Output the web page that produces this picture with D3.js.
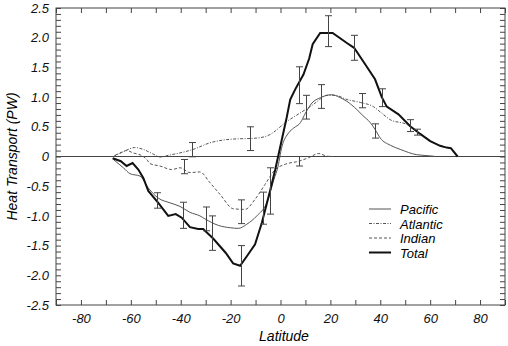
<!DOCTYPE html>
<meta charset="utf-8">
<body style="margin:0;background:#fff">
<script src="https://cdn.jsdelivr.net/npm/d3@7"></script>
<script>

    var width = 508,
        height = 346;

    // Latitude / transport (PW)
    var pacificLat = [-67, -63, -60.3, -56.3, -53, -49, -44.3, -40.3, -36.3, -32.3, -30.3, -24.9, -20, -16.9, -13.5, -9.5, -5.5, -2.2, -1.3, 0.6, 3.3, 5.3, 8, 10, 12.6, 16, 20.5, 23.5, 26.6, 30.6, 33, 36, 38, 40, 44, 48, 54.6, 61.3, 62];
    var pacificVal = [-0.05, -0.19, -0.29, -0.33, -0.53, -0.70, -0.78, -0.84, -0.94, -1.0, -1.05, -1.16, -1.2, -1.21, -1.14, -1.0, -0.78, -0.33, -0.22, 0.17, 0.40, 0.48, 0.57, 0.73, 0.90, 0.99, 1.04, 1.0, 0.93, 0.79, 0.69, 0.57, 0.45, 0.31, 0.19, 0.12, 0.03, 0.005, 0];

    var atlanticLat = [-67, -63, -58.5, -55, -51, -48, -45, -40.3, -35, -28.3, -20.2, -9.5, -4.2, -2.1, 1.9, 5.9, 10, 13.3, 16, 18.5, 21.9, 26.6, 32, 37.2, 40, 44, 50.6, 55.3, 58.6, 62, 65];
    var atlanticVal = [0.0, 0.08, 0.15, 0.12, 0.04, -0.01, 0.02, 0.06, 0.12, 0.23, 0.29, 0.31, 0.37, 0.43, 0.57, 0.68, 0.79, 0.88, 0.97, 1.03, 1.03, 0.96, 0.91, 0.84, 0.75, 0.62, 0.54, 0.40, 0.31, 0.22, 0.16];

    var indianLat = [-66.3, -64.3, -61.7, -59, -55, -53.6, -52.3, -48.3, -43.6, -40.3, -36.3, -32.3, -28.3, -24.2, -18.9, -14.2, -10.2, -6.2, -2.1, 1.9, 7.3, 11.3, 15.3, 18.7, 21];
    var indianVal = [0.02, 0.06, 0.10, 0.06, 0.0, -0.05, -0.12, -0.16, -0.22, -0.19, -0.27, -0.26, -0.44, -0.64, -0.88, -0.89, -0.72, -0.47, -0.22, -0.13, -0.08, -0.02, 0.05, 0.005, 0];

    var totalLat = [-67.3, -64, -61.7, -59.3, -57, -55, -53, -49, -45, -42, -39.6, -36.3, -33, -31, -27, -22, -19, -16.2, -13, -10.2, -7.5, -4.2, -2.1, 2.5, 3.9, 5.9, 9.2, 11.5, 12.9, 15.9, 20.9, 26.6, 29.5, 33.2, 37.9, 40.6, 42.6, 47.3, 52, 56, 60, 64, 66.6, 68.3, 71];
    var totalVal = [-0.03, -0.08, -0.16, -0.11, -0.22, -0.36, -0.58, -0.78, -1.0, -0.97, -1.03, -1.19, -1.22, -1.22, -1.38, -1.62, -1.80, -1.84, -1.65, -1.48, -1.12, -0.58, -0.22, 0.66, 0.96, 1.13, 1.38, 1.65, 1.89, 2.08, 2.08, 1.91, 1.83, 1.60, 1.30, 1.0, 0.84, 0.71, 0.51, 0.38, 0.26, 0.18, 0.15, 0.14, 0.0];

    // error bars: latitude, centre, half-width
    var errLat  = [-49.6, -39, -27.3, -16, -4.2, 7.4, 19.2, 29.5, 40.6, 52, -30, -7.1, 10.3, 37.9, -35.4, -12.3, 16.2, 32.6, 54.9, -38.5, -16, 7.3];
    var errMid  = [-0.74, -0.99, -1.29, -1.84, -0.58, 1.2, 2.11, 1.83, 0.99, 0.52, -1.05, -0.87, 0.83, 0.43, 0.115, 0.3, 1.01, 0.94, 0.41, -0.17, -0.93, -0.08];
    var errHalf = [0.13, 0.22, 0.29, 0.34, 0.39, 0.31, 0.26, 0.21, 0.15, 0.10, 0.2, 0.27, 0.2, 0.12, 0.12, 0.2, 0.2, 0.12, 0.05, 0.12, 0.2, 0.08];

    var xTicks = [-80, -60, -40, -20, 0, 20, 40, 60, 80];
    var yTicks = [-2.5, -2.0, -1.5, -1.0, -0.5, 0, 0.5, 1.0, 1.5, 2.0, 2.5];
    var seriesNames = ["Pacific", "Atlantic", "Indian", "Total"];

    var mLeft = 56, mRight = 505, mTop = 8, mBottom = 305;
    var font = "'Liberation Sans', Arial, Helvetica, sans-serif";
    var axisColor = "#444";

    var x = d3.scaleLinear().domain([-90, 90]).range([mLeft, mRight]);
    var y = d3.scaleLinear().domain([-2.5, 2.5]).range([mBottom, mTop]);

    var svg = d3.select("body").append("svg")
            .attr("width", width)
            .attr("height", height)
            .style("display", "block");

    // minor ticks all round, pointing inward
    var minorX = d3.range(-90, 90.1, 10);
    var minorY = d3.range(-25, 25.1, 1).map(function(d) { return d / 10; });

    function addAxis(axis, tx, ty) {
        var g = svg.append("g").attr("transform", "translate(" + tx + "," + ty + ")").call(axis);
        g.select(".domain").remove();
        g.selectAll("line").attr("stroke", axisColor);
        return g;
    }

    addAxis(d3.axisBottom(x).tickValues(minorX).tickSize(-5).tickFormat(""), 0, mBottom);
    addAxis(d3.axisTop(x).tickValues(minorX).tickSize(-5).tickFormat(""), 0, mTop);
    addAxis(d3.axisLeft(y).tickValues(minorY).tickSize(-5).tickFormat(""), mLeft, 0);
    addAxis(d3.axisRight(y).tickValues(minorY).tickSize(-5).tickFormat(""), mRight, 0);

    // plain hyphen for negatives, like the original
    addAxis(d3.axisBottom(x).tickValues(xTicks).tickSize(0).tickPadding(9)
            .tickFormat(function(d) { return String(d); }), 0, mBottom);
    addAxis(d3.axisLeft(y).tickValues(yTicks).tickSize(0).tickPadding(7)
            .tickFormat(function(d) { return d === 0 ? "0" : d.toFixed(1); }), mLeft, 0);

    svg.selectAll(".tick text")
            .attr("font-family", font)
            .attr("font-style", "italic")
            .attr("font-size", 13)
            .attr("fill", "#111");

    // frame
    svg.append("rect")
            .attr("x", mLeft).attr("y", mTop)
            .attr("width", mRight - mLeft).attr("height", mBottom - mTop)
            .attr("fill", "none").attr("stroke", axisColor);

    // zero line
    svg.append("line")
            .attr("x1", mLeft).attr("x2", mRight)
            .attr("y1", y(0)).attr("y2", y(0))
            .attr("stroke", axisColor);

    // axis titles
    svg.append("text")
            .attr("x", 284).attr("y", 341)
            .attr("text-anchor", "middle")
            .attr("font-family", font).attr("font-style", "italic").attr("font-size", 14)
            .text("Latitude");

    svg.append("text")
            .attr("transform", "translate(17," + y(0) + ") rotate(-90)")
            .attr("text-anchor", "middle")
            .attr("font-family", font).attr("font-style", "italic").attr("font-size", 14)
            .text("Heat Transport (PW)");

    var styles = [
        {lat: pacificLat, val: pacificVal, color: "#555", width: 1, dash: null, curve: d3.curveMonotoneX},
        {lat: atlanticLat, val: atlanticVal, color: "#555", width: 1, dash: "3,1.5,1,1.5", curve: d3.curveMonotoneX},
        {lat: indianLat, val: indianVal, color: "#555", width: 1, dash: "3,2", curve: d3.curveMonotoneX},
        {lat: totalLat, val: totalVal, color: "#111", width: 2, dash: null, curve: d3.curveLinear}
    ];

    styles.forEach(function(s) {
        var line = d3.line()
                .x(function(d, i) { return x(s.lat[i]); })
                .y(function(d) { return y(d); })
                .curve(s.curve);
        svg.append("path")
                .attr("d", line(s.val))
                .attr("fill", "none")
                .attr("stroke", s.color)
                .attr("stroke-width", s.width)
                .attr("stroke-dasharray", s.dash);
    });

    // error bars
    var eb = svg.append("g").attr("stroke", "#444").attr("stroke-width", 1);
    errLat.forEach(function(lat, i) {
        var cx = Math.round(x(lat)) + 0.5,
            y1 = y(errMid[i] + errHalf[i]),
            y2 = y(errMid[i] - errHalf[i]);
        eb.append("line").attr("x1", cx).attr("x2", cx).attr("y1", y1).attr("y2", y2);
        eb.append("line").attr("x1", cx - 3.5).attr("x2", cx + 3.5).attr("y1", y1).attr("y2", y1);
        eb.append("line").attr("x1", cx - 3.5).attr("x2", cx + 3.5).attr("y1", y2).attr("y2", y2);
    });

    // legend
    var lg = svg.append("g");
    seriesNames.forEach(function(name, i) {
        var ly = 209 + i * 14.5;
        lg.append("line")
                .attr("x1", 369).attr("x2", 391)
                .attr("y1", ly).attr("y2", ly)
                .attr("stroke", styles[i].color)
                .attr("stroke-width", styles[i].width)
                .attr("stroke-dasharray", styles[i].dash);
        lg.append("text")
                .attr("x", 400).attr("y", ly + 5)
                .attr("font-family", font).attr("font-style", "italic").attr("font-size", 13)
                .text(name);
    });

</script>
